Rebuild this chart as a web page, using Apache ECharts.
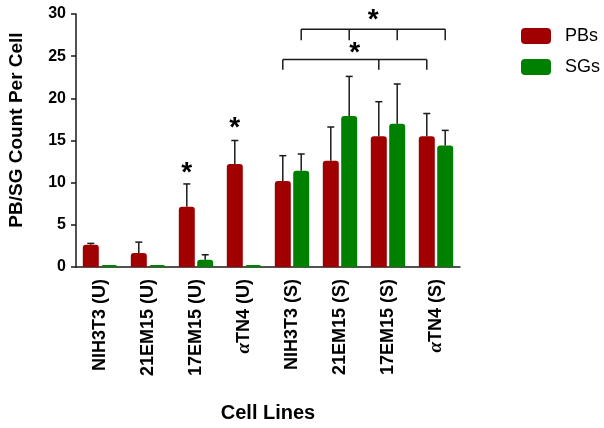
<!DOCTYPE html>
<html>
<head>
<meta charset="utf-8">
<script src="https://cdn.jsdelivr.net/npm/echarts@6/dist/echarts.min.js"></script>
<style>
  html, body { margin: 0; padding: 0; background: #fff; }
  #main { width: 604px; height: 428px; }
</style>
</head>
<body>
<div id="main"></div>
<script>
// data
var categories = ['NIH3T3 (U)', '21EM15 (U)', '17EM15 (U)', '{a|α}TN4 (U)',
                  'NIH3T3 (S)', '21EM15 (S)', '17EM15 (S)', '{a|α}TN4 (S)'];
var pbs    = [2.65, 1.65, 7.15, 12.2, 10.2, 12.6, 15.5, 15.5];
var pbsErr = [0.15, 1.3, 2.7, 2.8, 3.0, 4.0, 4.1, 2.7];
var sgs    = [0.25, 0.25, 0.85, 0.25, 11.4, 17.9, 17.0, 14.4];
var sgsErr = [0, 0, 0.6, 0, 2.0, 4.7, 4.7, 1.8];
var yTicks = [0, 5, 10, 15, 20, 25, 30];

// significance marks
var starCats   = [2, 3];
var starValues = [11.1, 16.4];
var bracketCats  = [[4, 5, 6, 7], [4, 6, 7]];
var bracketSide  = [1, -1];        // 1 = SGs bar, -1 = PBs bar
var bracketLevel = [28.2, 24.6];
var bracketDrop  = [26.9, 23.4];
var bracketStar  = [29.2, 25.3];

var RED = '#a00000', GREEN = '#008000', INK = '#1a1a1a';
var FONT = "'Liberation Sans', Arial, sans-serif";
var barW = 16, barGapPx = 2.4;
var off = (barW + barGapPx) / 2;

var myChart = echarts.init(document.getElementById('main'));

function errRender(vals, errs, side) {
    return function (params, api) {
        var i = api.value(0);
        if (!errs[i]) return { type: 'group', children: [] };
        var base = api.coord([i, vals[i]]);
        var top = api.coord([i, vals[i] + errs[i]]);
        var x = base[0] + side * off;
        var st = { stroke: INK, lineWidth: 1.5 };
        return {
            type: 'group',
            children: [
                { type: 'line', shape: { x1: x, y1: base[1], x2: x, y2: top[1] }, style: st },
                { type: 'line', shape: { x1: x - 3.5, y1: top[1], x2: x + 3.5, y2: top[1] }, style: st }
            ]
        };
    };
}

function starText(x, y) {
    return { type: 'text', style: { x: x, y: y, text: '*', fill: '#000',
        font: 'bold 28px ' + FONT, align: 'center', verticalAlign: 'middle' } };
}

function bracketRender(params, api) {
    var k = params.dataIndex;
    var cats = bracketCats[k];
    var side = bracketSide[k];
    var st = { stroke: INK, lineWidth: 1.5 };
    var yl = api.coord([0, bracketLevel[k]])[1];
    var yd = api.coord([0, bracketDrop[k]])[1];
    var xs = cats.map(function (c) { return api.coord([c, 0])[0] + side * off; });
    var children = [
        { type: 'line', shape: { x1: xs[0], y1: yl, x2: xs[xs.length - 1], y2: yl }, style: st }
    ];
    xs.forEach(function (x) {
        children.push({ type: 'line', shape: { x1: x, y1: yl, x2: x, y2: yd }, style: st });
    });
    children.push(starText((xs[0] + xs[xs.length - 1]) / 2, api.coord([0, bracketStar[k]])[1]));
    return { type: 'group', children: children };
}

myChart.setOption({
    animation: false,
    textStyle: { fontFamily: FONT },
    grid: { left: 76, right: 144, top: 14, bottom: 160 },
    legend: {
        orient: 'vertical',
        left: 516,
        top: 22,
        itemWidth: 30,
        itemHeight: 16,
        itemGap: 13,
        icon: 'roundRect',
        data: ['PBs', 'SGs'],
        textStyle: { fontSize: 18, color: '#000', padding: [0, 0, 0, 9] }
    },
    graphic: [{
        type: 'text',
        x: 17, y: 130,
        rotation: Math.PI / 2,
        style: { text: 'PB/SG Count Per Cell', font: 'bold 19px ' + FONT, fill: '#000',
                 align: 'center', verticalAlign: 'middle' }
    }],
    xAxis: {
        type: 'category',
        data: categories,
        name: 'Cell Lines',
        nameLocation: 'middle',
        nameGap: 136,
        nameTextStyle: { fontSize: 20, fontWeight: 'bold', color: '#000' },
        axisLine: { lineStyle: { color: INK, width: 1.5 } },
        axisTick: { alignWithLabel: true, length: 5, lineStyle: { color: INK, width: 1.5 } },
        axisLabel: {
            rotate: 90, fontSize: 18, fontWeight: 'bold', color: '#000', margin: 12,
            rich: { a: { fontFamily: "'Liberation Serif', 'DejaVu Serif', serif", fontStyle: 'italic',
                         fontSize: 19, color: '#000' } }
        }
    },
    yAxis: {
        type: 'value',
        min: 0, max: 30, interval: 5,
        splitLine: { show: false },
        axisLine: { show: true, lineStyle: { color: INK, width: 1.5 } },
        axisTick: { show: true, length: 5, lineStyle: { color: INK, width: 1.5 } },
        axisLabel: { fontSize: 16, fontWeight: 'bold', color: '#000', margin: 10,
                     formatter: function (v) { return yTicks.indexOf(v) >= 0 ? String(v) : ''; } }
    },
    series: [
        { name: 'PBs', type: 'bar', data: pbs, barWidth: barW, barGap: '15%',
          itemStyle: { color: RED, borderRadius: [3, 3, 0, 0] } },
        { name: 'SGs', type: 'bar', data: sgs, barWidth: barW,
          itemStyle: { color: GREEN, borderRadius: [3, 3, 0, 0] } },
        { type: 'custom', renderItem: errRender(pbs, pbsErr, -1), z: 3,
          data: pbs.map(function (v, i) { return [i, v + pbsErr[i]]; }) },
        { type: 'custom', renderItem: errRender(sgs, sgsErr, 1), z: 3,
          data: sgs.map(function (v, i) { return [i, v + sgsErr[i]]; }) },
        { type: 'custom', z: 3,
          renderItem: function (params, api) {
              var p = api.coord([api.value(0), api.value(1)]);
              return starText(p[0] - off, p[1]);
          },
          data: starCats.map(function (c, i) { return [c, starValues[i]]; }) },
        { type: 'custom', z: 3, renderItem: bracketRender,
          data: bracketCats.map(function (c, i) { return [c[0], bracketLevel[i]]; }) }
    ]
});
</script>
</body>
</html>
